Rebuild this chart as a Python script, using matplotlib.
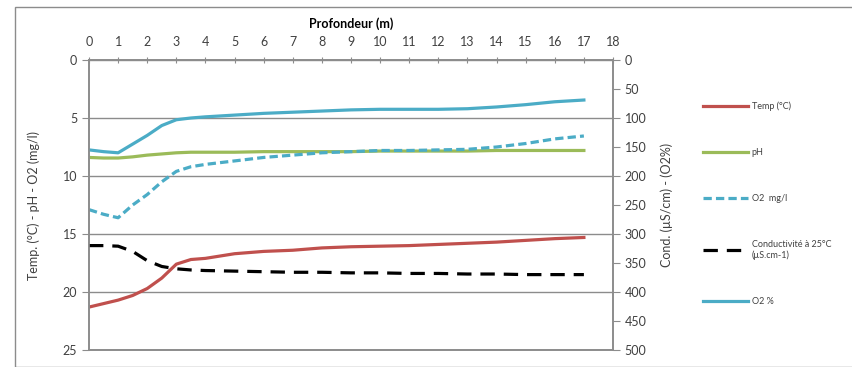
import numpy as np
import matplotlib.pyplot as plt
from matplotlib.patches import Rectangle

plt.rcParams['font.family'] = ['Lato', 'DejaVu Sans']

depth = [0, 0.5, 1, 1.5, 2, 2.5, 3, 3.5, 4, 5, 6, 7, 8, 9, 10, 11, 12, 13, 14, 15, 16, 17]
temp = [21.3, 21.0, 20.7, 20.3, 19.7, 18.8, 17.6, 17.2, 17.1, 16.7, 16.5, 16.4, 16.2,
        16.1, 16.05, 16.0, 15.9, 15.8, 15.7, 15.55, 15.4, 15.3]
ph = [8.4, 8.45, 8.45, 8.35, 8.2, 8.1, 8.0, 7.95, 7.95, 7.95, 7.9, 7.9, 7.9, 7.9,
      7.85, 7.85, 7.85, 7.85, 7.8, 7.8, 7.8, 7.8]
o2_mgl = [12.9, 13.3, 13.6, 12.5, 11.6, 10.5, 9.6, 9.2, 9.0, 8.7, 8.4, 8.2, 8.0, 7.9,
          7.8, 7.8, 7.75, 7.7, 7.5, 7.2, 6.8, 6.55]
cond = [320, 320, 321, 330, 346, 356, 360, 362, 363, 364, 365, 366, 366, 367, 367,
        368, 368, 369, 369, 370, 370, 370]
o2_pct = [155, 158, 160, 145, 130, 113, 103, 100, 98, 95, 92, 90, 88, 86, 85, 85, 85,
          84, 81, 77, 72, 69]

red = "#C0504D"
green = "#9BBB59"
blue = "#4BACC6"
gray = "#8C8C8C"
txt = "#404040"

fig = plt.figure(figsize=(8.53, 3.67), dpi=100)
fig.patches.append(Rectangle((15 / 853, 0), 1, 1 - 7 / 367, transform=fig.transFigure,
                             fill=False, edgecolor=gray, linewidth=1))
ax = fig.add_axes([89 / 853, 1 - 350 / 367, (613 - 89) / 853, (350 - 60) / 367])
ax2 = ax.twinx()

l1, = ax.plot(depth, temp, color=red, lw=2.3, label="Temp (°C)")
l2, = ax.plot(depth, ph, color=green, lw=2.3, label="pH")
l3, = ax.plot(depth, o2_mgl, color=blue, lw=2.3, dashes=(2.6, 1.3), label="O2  mg/l")
l4, = ax2.plot(depth, cond, color="black", lw=2.3, dashes=(4.5, 2.8),
               label="Conductivité à 25°C\n(µS.cm-1)")
l5, = ax2.plot(depth, o2_pct, color=blue, lw=2.3, label="O2 %")

ax.set_xlim(0, 18)
ax.set_ylim(25, 0)
ax2.set_ylim(500, 0)
ax.set_xticks(np.arange(0, 19, 1))
ax.set_yticks(np.arange(0, 26, 5))
ax2.set_yticks(np.arange(0, 501, 50))

ax.xaxis.tick_top()
ax.xaxis.set_label_position("top")
ax.set_xlabel("Profondeur (m)", fontsize=9, fontweight="bold", color="black", labelpad=6)
ax.tick_params(axis="x", direction="inout", length=5, color=gray, labelsize=9,
               labelcolor=txt, pad=6)
ax.tick_params(axis="y", direction="out", length=5, color=gray, labelsize=9,
               labelcolor=txt)
ax2.tick_params(axis="y", direction="out", length=5, color=gray, labelsize=9,
                labelcolor=txt)

ax.set_ylabel("Temp. (°C) - pH - O2 (mg/l)", fontsize=9, color=txt, labelpad=16)
ax2.set_ylabel("Cond. (µS/cm) - (O2%)", fontsize=9, color=txt, labelpad=10)

for a in (ax, ax2):
    for s in a.spines.values():
        s.set_color(gray)
        s.set_linewidth(1.2)
ax.grid(axis="y", color=gray, lw=1.0)
ax.set_axisbelow(True)

fig.legend(handles=[l1, l2, l3, l4, l5], loc="upper left",
           bbox_to_anchor=(695 / 853, 1 - 93 / 367), frameon=False, fontsize=6.5,
           handlelength=5.0, labelspacing=4.1, handletextpad=0.4, labelcolor=txt)

fig.savefig("out.png", dpi=100)
